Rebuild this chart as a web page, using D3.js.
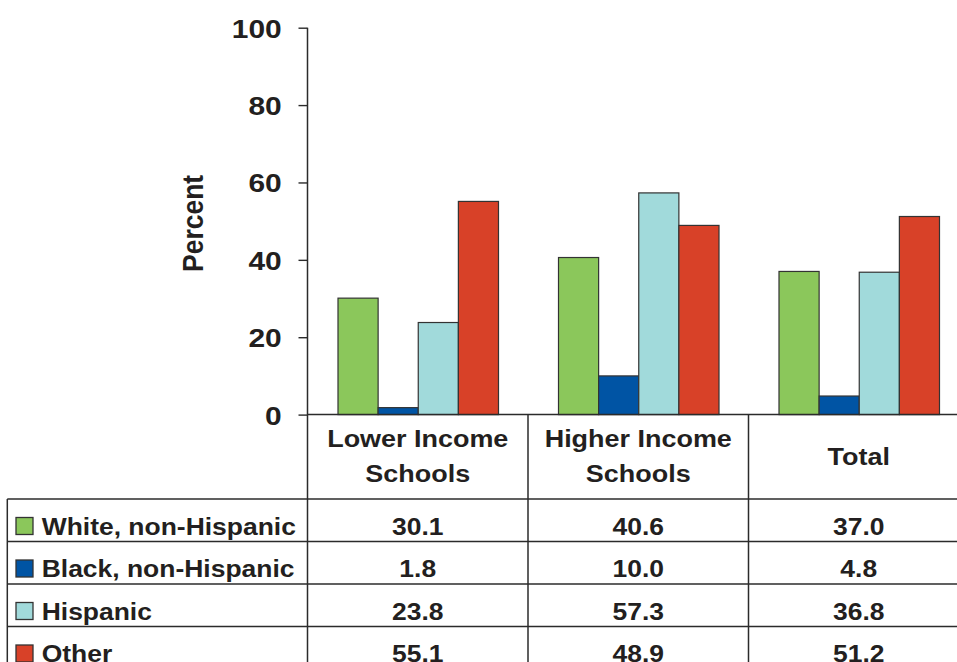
<!DOCTYPE html>
<html>
<head>
<meta charset="utf-8">
<script src="https://cdn.jsdelivr.net/npm/d3@7"></script>
<style>
  html, body { margin: 0; padding: 0; background: #fff; }
  svg { display: block; }
  text { font-family: "Liberation Sans", Arial, sans-serif; font-weight: bold; fill: #231f20; }
</style>
</head>
<body>
<svg id="chart" width="957" height="662"></svg>
<script>
// Category columns (header lines) and the four population groups
const categories = ["Lower Income Schools", "Higher Income Schools", "Total"];
const categoryLines = [["Lower Income", "Schools"], ["Higher Income", "Schools"], ["Total"]];
const seriesNames = ["White, non-Hispanic", "Black, non-Hispanic", "Hispanic", "Other"];
const seriesColors = ["#8bc75b", "#0054a4", "#a1dadb", "#d84128"];

// Percent values per category, one array per group
const white    = [30.1, 40.6, 37.0];
const black    = [1.8, 10.0, 4.8];
const hispanic = [23.8, 57.3, 36.8];
const other    = [55.1, 48.9, 51.2];
const seriesValues = [white, black, hispanic, other];

const yTicks = [0, 20, 40, 60, 80, 100];
const yLabel = "Percent";

const svg = d3.select("#chart");
const ink = "#2b2b2b";

// Scales
const x = d3.scaleBand().domain(categories).range([307.5, 969]).paddingInner(0).paddingOuter(0);
const xs = d3.scaleBand().domain(seriesNames).range([30.5, 191]).padding(0);
const y = d3.scaleLinear().domain([0, 100]).range([414.6, 27.7]);

// Bars
seriesNames.forEach((name, si) => {
  svg.append("g")
    .selectAll("rect")
    .data(seriesValues[si].map((v, ci) => ({ v, c: categories[ci] })))
    .join("rect")
    .attr("x", d => x(d.c) + xs(name))
    .attr("y", d => y(d.v))
    .attr("width", xs.bandwidth())
    .attr("height", d => y(0) - y(d.v))
    .attr("fill", seriesColors[si])
    .attr("stroke", "#333")
    .attr("stroke-width", 1.2);
});

// Stretched text helper
function label(g, str, tx, ty, size, sx, anchor) {
  return g.append("text")
    .attr("transform", `translate(${tx},${ty}) scale(${sx},1)`)
    .attr("text-anchor", anchor || "middle")
    .style("font-size", size + "px")
    .text(str);
}

// Y axis
const yAxis = svg.append("g")
  .attr("transform", `translate(${x.range()[0]},0)`)
  .call(d3.axisLeft(y).tickValues(yTicks).tickSize(9).tickSizeOuter(0).tickFormat(d3.format("d")));
yAxis.select(".domain").remove();
yAxis.selectAll(".tick line").attr("stroke", ink).attr("stroke-width", 1.4);
yAxis.selectAll(".tick text")
  .attr("x", null).attr("dy", null)
  .attr("transform", "translate(-25.8,9.5) scale(1.13,1)")
  .attr("text-anchor", "end")
  .style("font-size", "26.5px")
  .style("font-family", null)
  .attr("fill", null);

svg.append("text")
  .attr("transform", `translate(203,223.4) rotate(-90) scale(1,1.1)`)
  .attr("text-anchor", "middle")
  .style("font-size", "26.5px")
  .text(yLabel);

// Table grid lines
const grid = svg.append("g").attr("stroke", ink).attr("stroke-width", 1.5).attr("fill", "none");
const x0 = x.range()[0], x1 = x.range()[1];
const rowTop = 499, rowH = 42.5;
// vertical axis line runs from top of the value scale through the table
grid.append("line").attr("x1", x0).attr("x2", x0).attr("y1", y(100)).attr("y2", 700);
// category baseline
grid.append("line").attr("x1", x0).attr("x2", x1).attr("y1", y(0)).attr("y2", y(0));
// column separators
categories.forEach(c => {
  const cx = x(c) + x.bandwidth();
  grid.append("line").attr("x1", cx).attr("x2", cx).attr("y1", y(0)).attr("y2", 700);
});
// left border of legend column
grid.append("line").attr("x1", 7.3).attr("x2", 7.3).attr("y1", rowTop).attr("y2", 700);
// row rules
d3.range(seriesNames.length + 1).forEach(i => {
  const ry = rowTop + i * rowH;
  grid.append("line").attr("x1", 7.3).attr("x2", x1).attr("y1", ry).attr("y2", ry);
});

// Column headers
const head = svg.append("g");
categories.forEach((c, ci) => {
  const cx = x(c) + x.bandwidth() / 2;
  const lines = categoryLines[ci];
  if (lines.length === 2) {
    label(head, lines[0], cx, 446.7, 24.5, 1.1);
    label(head, lines[1], cx, 481.7, 24.5, 1.1);
  } else {
    label(head, lines[0], cx, 465, 24.5, 1.1);
  }
});

// Legend rows with values
const rows = svg.append("g");
seriesNames.forEach((name, si) => {
  const base = rowTop + si * rowH + 35.5;
  rows.append("rect")
    .attr("x", 16).attr("y", base - 17)
    .attr("width", 17).attr("height", 17)
    .attr("fill", seriesColors[si])
    .attr("stroke", "#333").attr("stroke-width", 1.3);
  label(rows, name, 41.7, base, 24.5, 1.08, "start");
  seriesValues[si].forEach((v, ci) => {
    label(rows, d3.format(".1f")(v), x(categories[ci]) + x.bandwidth() / 2, base, 24.5, 1.08);
  });
});
</script>
</body>
</html>
